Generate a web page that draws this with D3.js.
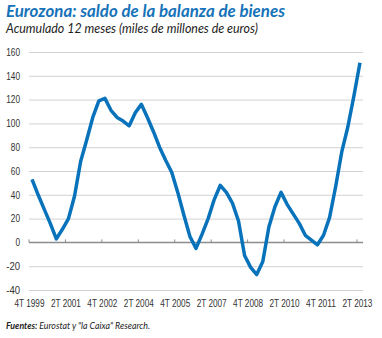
<!DOCTYPE html>
<html>
<head>
<meta charset="utf-8">
<script src="https://cdn.jsdelivr.net/npm/d3@7"></script>
<style>
  body { margin: 0; background: #fff; }
  svg { display: block; }
  .axis text { font-family: "Liberation Sans", sans-serif; font-size: 10px; fill: #333; }
</style>
</head>
<body>
<svg id="chart" width="382" height="338"></svg>
<script>
// saldo acumulado 12 meses, trimestral desde 4T 1999 hasta 2T 2013
const values = [
  53, 40, 28, 16, 3, 11, 20, 39, 68, 86,
  105, 119, 121, 111, 105, 102, 98, 109, 116, 105,
  93, 80, 69, 59, 42, 23, 5, -5, 7, 20,
  36, 48, 42, 33, 18, -11, -21, -27, -16, 13,
  30, 42, 32, 24, 16, 6, 2, -2, 6, 21,
  47, 76, 97, 123, 151
];
const yTicks = [160, 140, 120, 100, 80, 60, 40, 20, 0, -20, -40];
const xTickLabels = ["4T 1999", "2T 2001", "4T 2002", "2T 2004", "4T 2005",
  "2T 2007", "4T 2008", "2T 2010", "4T 2011", "2T 2013"];

const title = "Eurozona: saldo de la balanza de bienes";
const subtitle = "Acumulado 12 meses (miles de millones de euros)";

const svg = d3.select("#chart");
const mLeft = 29, mRight = 363, mTop = 52, mBottom = 290;

const x = d3.scaleLinear().domain([0, 55]).range([mLeft, mRight]);
const y = d3.scaleLinear().domain([-40, 160]).range([mBottom, mTop]);

svg.append("text")
  .attr("x", 6).attr("y", 17)
  .attr("textLength", 279).attr("lengthAdjust", "spacingAndGlyphs")
  .style("font-family", "Lato, sans-serif")
  .style("font-weight", "bold").style("font-style", "italic")
  .style("font-size", "17px").style("fill", "#1673b9")
  .text(title);

svg.append("text")
  .attr("x", 6).attr("y", 33)
  .attr("textLength", 252).attr("lengthAdjust", "spacingAndGlyphs")
  .style("font-family", "Lato, sans-serif")
  .style("font-style", "italic")
  .style("font-size", "13px").style("fill", "#222")
  .text(subtitle);

// grid + y labels
const yAxis = svg.append("g")
  .attr("class", "axis")
  .attr("transform", `translate(${mLeft},0)`)
  .call(d3.axisLeft(y).tickValues(yTicks).tickSize(-(mRight - mLeft)).tickPadding(9));
yAxis.select(".domain").remove();
yAxis.selectAll("line").attr("stroke", "#d2d2d2").attr("stroke-width", 1)
  .filter(d => d === 0).remove();
yAxis.selectAll("text")
  .text(d => String(d))
  .attr("textLength", d => String(d).length * 4.6)
  .attr("lengthAdjust", "spacingAndGlyphs");

// eje cero con marcas
svg.append("line")
  .attr("x1", mLeft).attr("x2", mRight)
  .attr("y1", y(0)).attr("y2", y(0))
  .attr("stroke", "#8c8c8c").attr("stroke-width", 1.5);

const tickIdx = xTickLabels.map((_, i) => i * 6);
svg.selectAll(".zt")
  .data(tickIdx)
  .enter().append("line")
  .attr("class", "zt")
  .attr("x1", d => x(d)).attr("x2", d => x(d))
  .attr("y1", y(0)).attr("y2", y(0) - 3)
  .attr("stroke", "#8c8c8c").attr("stroke-width", 1);

// x labels
const xAxis = svg.append("g")
  .attr("class", "axis")
  .attr("transform", `translate(0,${mBottom})`)
  .call(d3.axisBottom(x).tickValues(tickIdx).tickSize(0).tickPadding(10)
    .tickFormat((d, i) => xTickLabels[i]));
xAxis.select(".domain").remove();
xAxis.selectAll("text")
  .style("font-size", "10.5px")
  .attr("textLength", 30)
  .attr("lengthAdjust", "spacingAndGlyphs");

const line = d3.line()
  .x((d, i) => x(i + 0.5))
  .y(d => y(d));

svg.append("path")
  .datum(values)
  .attr("d", line)
  .attr("fill", "none")
  .attr("stroke", "#0872bb")
  .attr("stroke-width", 3.5)
  .attr("stroke-linejoin", "round")
  .attr("stroke-linecap", "butt");

const src = svg.append("text")
  .attr("x", 6).attr("y", 329)
  .attr("textLength", 144).attr("lengthAdjust", "spacingAndGlyphs")
  .style("font-family", "Lato, sans-serif")
  .style("font-style", "italic")
  .style("font-size", "9.5px").style("fill", "#222");
src.append("tspan").style("font-weight", "bold").text("Fuentes: ");
src.append("tspan").text("Eurostat y \"la Caixa\" Research.");
</script>
</body>
</html>
